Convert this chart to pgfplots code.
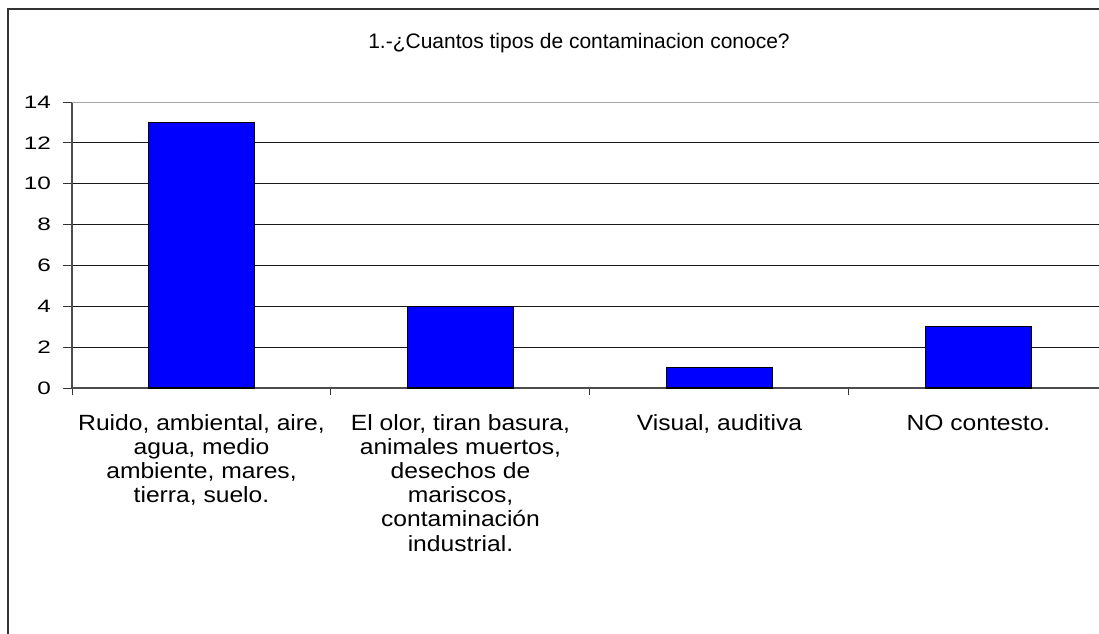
\documentclass[border=0pt]{standalone}
\usepackage{fontspec}
\setmainfont{Liberation Sans}
\newfontfamily\tickfont[FakeStretch=1.35]{Liberation Sans}
\newfontfamily\catfont[FakeStretch=1.12]{Liberation Sans}
\usepackage{pgfplots}
\pgfplotsset{compat=1.18}
\begin{document}
\begin{tikzpicture}[x=1pt,y=1pt]
\useasboundingbox (0,0) rectangle (1099,633);
\clip (0,0) rectangle (1099,633);
\fill[white] (0,0) rectangle (1099,633);
\draw[line width=2pt, black!80] (8,-20) -- (8,624) -- (1120,624);
\begin{axis}[
  at={(72pt,245pt)}, anchor=south west,
  scale only axis, width=1036pt, height=286pt,
  xmin=-0.5, xmax=3.5, ymin=0, ymax=14,
  ybar, bar width=0.41,
  axis x line*=bottom, axis y line*=left,
  axis line style={black!70, line width=1.5pt},
  ytick={0,2,...,14},
  ymajorgrids, grid style={black!90, line width=1pt},
  xtick={0,1,2,3},
  xticklabels={{\strut Ruido, ambiental, aire,\\agua, medio\\ambiente, mares,\\tierra, suelo.},
               {\strut El olor, tiran basura,\\animales muertos,\\desechos de\\mariscos,\\contaminación\\industrial.},
               {\strut Visual, auditiva},
               {\strut NO contesto.}},
  minor xtick={-0.5,0.5,1.5,2.5},
  major x tick style={draw=none},
  tick align=outside,
  major tick length=9pt, minor tick length=7pt,
  tick style={black!80, line width=1pt},
  /pgf/number format/assume math mode=true,
  yticklabel style={font=\tickfont\fontsize{18}{20}\selectfont, inner sep=0pt, xshift=-12pt},
  xticklabel style={font=\catfont\fontsize{22}{24.2}\selectfont, align=center, anchor=north, inner sep=0pt, yshift=-16pt},
]
\addplot[fill={rgb,255:red,0;green,0;blue,255}, draw=black, line width=1.5pt]
  coordinates {(0,13) (1,4) (2,1) (3,3)};
\draw[gray!70, line width=2pt] (axis cs:-0.5,14) -- (axis cs:3.5,14);
\end{axis}
\node[anchor=base, font=\fontsize{21}{24}\selectfont, inner sep=0pt] at (579,584.7) {1.-¿Cuantos tipos de contaminacion conoce?};
\end{tikzpicture}
\end{document}
